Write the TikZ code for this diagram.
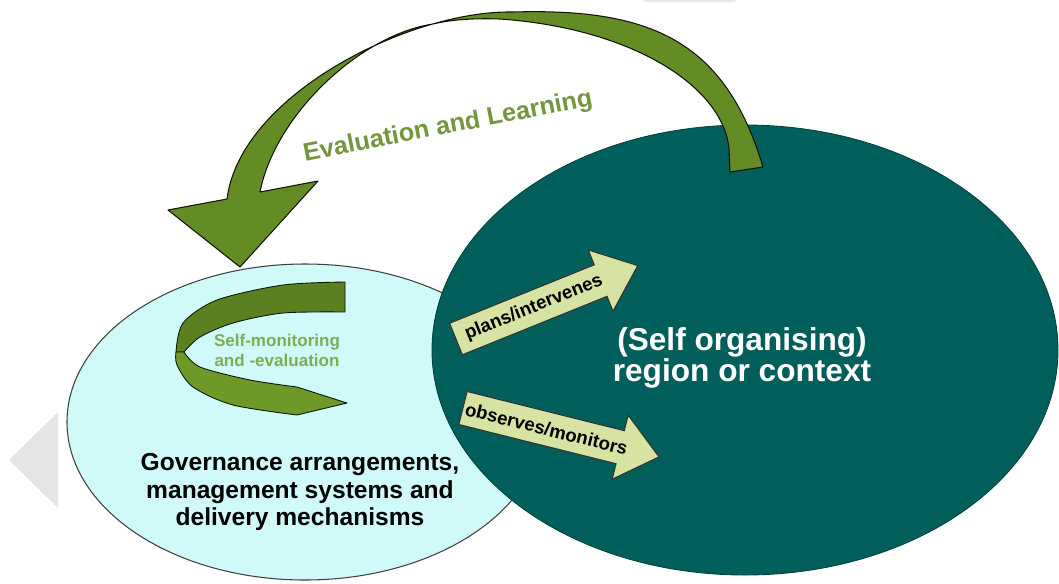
\documentclass[tikz,border=0pt]{standalone}
\usepackage{fontspec}
\setmainfont{Liberation Sans}
\usetikzlibrary{positioning, calc}
\definecolor{regionteal}{RGB}{0,95,90}
\definecolor{govcyan}{RGB}{208,250,250}
\definecolor{loopgreen}{RGB}{99,140,36}
\definecolor{ribbondark}{RGB}{92,128,32}
\definecolor{ribbonlight}{RGB}{110,152,40}
\definecolor{looptext}{RGB}{118,150,62}
\definecolor{selftext}{RGB}{130,172,84}
\definecolor{armfill}{RGB}{214,227,163}
\tikzset{%
	regionfill/.style={fill=regionteal, draw=regionteal!70!black, line width=0.5pt},
	govfill/.style={fill=govcyan, draw=black!75, line width=0.6pt},
	bigloop/.style={fill=loopgreen, draw=black!85!loopgreen, line width=0.6pt, line join=round},
	ribbon/.style={draw=black!85!loopgreen, line width=0.5pt, line join=round},
	arm/.style={fill=armfill, draw=black!80, line width=0.6pt, line join=miter},
	armlabel/.style={font=\fontsize{10.6}{12}\selectfont\bfseries, inner sep=0pt, transform shape},
	pagemark/.style={fill=black!10}
}
\newcommand\blockarrow[1]{% length
	(0,-17) -- (#1-40,-17) -- (#1-40,-33) -- (#1,0) -- (#1-40,33) -- (#1-40,17) -- (0,17) -- cycle
}

\begin{document}
\begin{tikzpicture}[x=0.02cm, y=-0.02cm]
	\useasboundingbox (0,0) rectangle (1059,583);

	\fill[pagemark] (9,460) -- (58,412) -- (58,508) -- cycle;
	\fill[pagemark, rounded corners=2pt] (643,-4) rectangle (737,2);

	\coordinate (g) at (305,422);
	\coordinate (r) at (745,350);
	\draw[govfill] (g) ellipse [x radius=238, y radius=158];
	\draw[regionfill] (r) ellipse [x radius=313, y radius=225];

	% evaluation loop
	\coordinate (tailout) at (763,167);
	\coordinate (tailin) at (730,172);
	\coordinate (top) at (513,12);
	\coordinate (twist) at (433,24);
	\coordinate (neckl) at (227,199);
	\coordinate (neckr) at (260,192);
	\coordinate (barbl) at (168,210);
	\coordinate (barbr) at (318,181);
	\coordinate (tip) at (240,267);
	\filldraw[bigloop] (tailout) .. controls (725,40) and (650,8) .. (top)
		.. controls (410,10) and (240,95) .. (neckl) -- (barbl) -- (tip) -- (barbr) -- (neckr)
		.. controls (275,115) and (360,35) .. (twist)
		.. controls (450,20) and (470,18) .. (500,19)
		.. controls (630,28) and (722,85) .. (729,148) -- (tailin) -- cycle;

	% self-monitoring ribbon
	\filldraw[ribbon, fill=ribbondark] plot[smooth] coordinates {(345,282) (283,285) (217,300) (183,323) (176,352)}
		-- (184,352) -- plot[smooth] coordinates {(184,352) (200,337) (233,323) (283,313) (345,312)} -- cycle;
	\filldraw[ribbon, fill=ribbonlight] plot[smooth] coordinates {(184,352) (200,367) (250,380) (297,387)}
		-- (347,403) -- plot[smooth] coordinates {(297,415) (233,405) (193,387) (177,365) (176,352)} -- cycle;

	% arms
	\coordinate (p1) at (456,339);
	\coordinate (p2) at (463,408);
	\begin{scope}[shift={(p1)}, rotate=22]
		\draw[arm] \blockarrow{196};
		\node[armlabel] (plans) at (84,0) {plans/intervenes};
	\end{scope}
	\begin{scope}[shift={(p2)}, rotate=-14]
		\draw[arm] \blockarrow{202};
		\node[armlabel] (observes) at (86,0) {observes/monitors};
	\end{scope}

	% labels
	\node[rotate=11, text=looptext, font=\fontsize{14.4}{16}\selectfont\bfseries] (evaluation) at (448,127) {Evaluation and Learning};
	\node[align=center, text=selftext, font=\fontsize{9.7}{11.3}\selectfont\bfseries] (selfmon) at (277,350) {Self-monitoring\\and -evaluation};
	\node[align=center, font=\fontsize{14}{15.9}\selectfont\bfseries] (governance) at (300,492) {Governance arrangements,\\management systems and\\delivery mechanisms};
	\node[align=center, text=white, font=\fontsize{18}{16.5}\selectfont\bfseries] (context) at (742,358) {(Self organising)\\region or context};
\end{tikzpicture}
\end{document}
